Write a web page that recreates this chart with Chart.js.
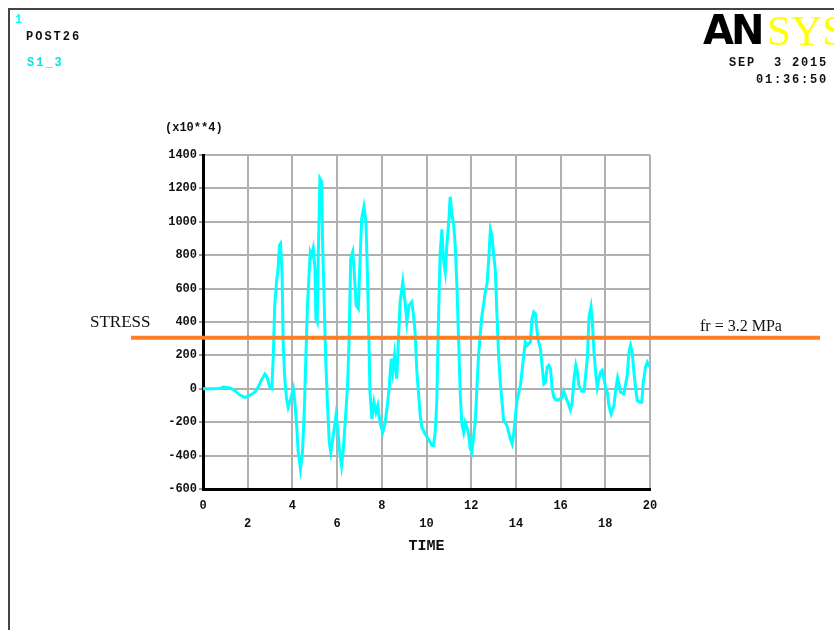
<!DOCTYPE html>
<html>

<head>
  <title>POST26 S1_3</title>
  <script src="https://cdn.jsdelivr.net/npm/chart.js"></script>
  <style>
    body { margin: 0; background: #fff; }
    #page { position: relative; width: 834px; height: 630px; overflow: hidden; }
    #page canvas { position: absolute; left: 0; top: 0; }
    .t { position: absolute; white-space: pre; line-height: 1; font-family: "Liberation Mono", monospace; font-weight: bold; }
    .frame { position: absolute; left: 8px; top: 8px; width: 900px; height: 700px;
             border-left: 2px solid #444; border-top: 2px solid #444; }
  </style>
</head>

<body>
  <div id="page">
    <div class="frame"></div>
    <canvas id="myChart" width="834" height="630"></canvas>
    <div class="t" style="left:15px;top:14px;font-size:12px;color:#00ffff;">1</div>
    <div class="t" style="left:26px;top:31px;font-size:12px;letter-spacing:2px;color:#111;">POST26</div>
    <div class="t" style="left:27px;top:57px;font-size:12px;letter-spacing:2px;color:#00e5e5;">S1_3</div>
    <div class="t" style="left:703px;top:10px;font-family:'DejaVu Sans',sans-serif;font-size:40px;font-weight:900;letter-spacing:-3px;color:#000;">AN</div>
    <div class="t" style="left:767px;top:9px;font-family:'Liberation Serif',serif;font-size:43px;font-weight:normal;color:#ffff00;">SYS</div>
    <div class="t" style="right:6px;top:57px;font-size:12px;letter-spacing:1.8px;color:#111;">SEP  3 2015</div>
    <div class="t" style="right:6px;top:74px;font-size:12px;letter-spacing:1.8px;color:#111;">01:36:50</div>
    <div class="t" style="left:165px;top:122px;font-size:12px;letter-spacing:0px;color:#111;">(x10**4)</div>
    <div class="t" style="left:90px;top:313px;font-family:'Liberation Serif',serif;font-size:17px;font-weight:normal;color:#111;">STRESS</div>
    <div class="t" style="left:700px;top:318px;font-family:'Liberation Serif',serif;font-size:16px;font-weight:normal;color:#111;">fr = 3.2 MPa</div>
  </div>
  <script>
    // time history (stress in x10**4)
    var time = [
      0.00, 0.40, 0.75, 0.93, 1.20, 1.35, 1.50, 1.64, 1.87, 2.09,
      2.32, 2.47, 2.62, 2.77, 2.88, 2.97, 3.08, 3.14, 3.21, 3.29,
      3.36, 3.42, 3.47, 3.54, 3.59, 3.66, 3.74, 3.81, 3.92, 4.04,
      4.11, 4.19, 4.26, 4.36, 4.45, 4.53, 4.60, 4.68, 4.75, 4.80,
      4.86, 4.93, 5.01, 5.05, 5.11, 5.16, 5.23, 5.31, 5.35, 5.41,
      5.49, 5.56, 5.65, 5.72, 5.83, 5.95, 6.02, 6.10, 6.20, 6.28,
      6.35, 6.46, 6.53, 6.61, 6.70, 6.77, 6.85, 6.95, 7.03, 7.10,
      7.20, 7.29, 7.35, 7.41, 7.47, 7.56, 7.65, 7.74, 7.82, 7.92,
      8.04, 8.15, 8.25, 8.34, 8.42, 8.49, 8.57, 8.67, 8.74, 8.82,
      8.94, 9.04, 9.12, 9.22, 9.34, 9.42, 9.49, 9.57, 9.64, 9.72,
      9.79, 9.94, 10.08, 10.24, 10.31, 10.39, 10.46, 10.54, 10.61, 10.69,
      10.76, 10.84, 10.91, 10.99, 11.06, 11.14, 11.21, 11.29, 11.36, 11.44,
      11.51, 11.58, 11.66, 11.73, 11.81, 11.88, 11.96, 12.03, 12.11, 12.18,
      12.26, 12.33, 12.41, 12.48, 12.56, 12.63, 12.71, 12.78, 12.86, 12.93,
      13.00, 13.08, 13.15, 13.23, 13.30, 13.38, 13.45, 13.60, 13.75, 13.83,
      13.90, 13.98, 14.05, 14.20, 14.27, 14.35, 14.42, 14.50, 14.57, 14.65,
      14.72, 14.80, 14.87, 14.95, 15.02, 15.10, 15.17, 15.25, 15.32, 15.40,
      15.47, 15.55, 15.62, 15.70, 15.77, 15.92, 16.07, 16.14, 16.29, 16.44,
      16.52, 16.60, 16.68, 16.75, 16.82, 16.94, 17.05, 17.20, 17.27, 17.36,
      17.42, 17.50, 17.58, 17.64, 17.71, 17.79, 17.86, 17.94, 18.01, 18.09,
      18.16, 18.26, 18.39, 18.46, 18.55, 18.63, 18.68, 18.83, 18.98, 19.06,
      19.13, 19.21, 19.28, 19.36, 19.43, 19.55, 19.63, 19.70, 19.80, 19.88,
      20.00
    ];
    var s1 = [
      0, 0, 2, 10, 5, -4, -20, -36, -52, -40,
      -20, 10, 55, 88, 65, 15, 2, 180, 500, 640,
      720, 860, 870, 680, 260, 60, -60, -110, -60, 0,
      -80, -220, -380, -480, -380, -140, 180, 520, 700, 820,
      800, 840, 720, 420, 400, 820, 1260, 1240, 880, 580,
      180, -60, -320, -380, -280, -160, -220, -360, -460, -360,
      -220, 0, 260, 780, 820, 700, 500, 480, 780, 1020,
      1090, 1000, 720, 380, -20, -180, -80, -140, -100, -200,
      -260, -200, -100, 20, 180, 100, 200, 60, 280, 520,
      640, 520, 400, 500, 520, 440, 340, 100, -20, -160,
      -230, -270, -300, -340, -340, -260, -80, 440, 810, 955,
      770, 700, 860, 990, 1150, 1040, 990, 850, 620, 280,
      -30, -210, -260, -200, -230, -270, -360, -380, -280, -200,
      20, 200, 340, 440, 510, 580, 630, 770, 955, 920,
      810, 710, 450, 190, 40, -80, -190, -220, -300, -330,
      -270, -160, -70, 20, 100, 200, 280, 260, 270, 280,
      420, 460, 450, 340, 280, 240, 140, 30, 40, 130,
      140, 120, 0, -50, -65, -65, -50, -15, -70, -125,
      -80, 60, 140, 100, 20, -15, -15, 190, 430, 490,
      400, 210, 80, 10, 60, 100, 110, 60, 10, -20,
      -100, -150, -100, -10, 65, 20, -20, -30, 80, 220,
      260, 210, 100, 0, -70, -80, -80, 40, 130, 160,
      130
    ];
    var xTicks = [0, 2, 4, 6, 8, 10, 12, 14, 16, 18, 20];
    var yTicks = [-600, -400, -200, 0, 200, 400, 600, 800, 1000, 1200, 1400];
    var frLevel = 306; // fr = 3.2 MPa marker, as drawn

    var tickFont = { family: 'Liberation Mono', size: 12, weight: 'bold', lineHeight: 1.5 };

    // orange fr line, drawn past both ends of the plot
    var frLine = {
      id: 'frLine',
      afterDatasetsDraw: function (chart) {
        var ctx = chart.ctx;
        var y = chart.scales.y.getPixelForValue(frLevel);
        ctx.save();
        ctx.strokeStyle = '#ff7f27';
        ctx.lineWidth = 4;
        ctx.beginPath();
        ctx.moveTo(131, y);
        ctx.lineTo(820, y);
        ctx.stroke();
        ctx.restore();
      }
    };

    var ctx = document.getElementById('myChart').getContext('2d');
    var chart = new Chart(ctx, {
      type: 'line',
      data: {
        datasets: [{
          label: 'S1_3',
          data: time.map(function (t, i) { return { x: t, y: s1[i] }; }),
          borderColor: '#00ffff',
          borderWidth: 3,
          pointRadius: 0,
          tension: 0,
          fill: false
        }]
      },
      plugins: [frLine],
      options: {
        responsive: false,
        animation: false,
        layout: { padding: { left: 143, right: 184, top: 155, bottom: 71 } },
        plugins: { legend: { display: false }, tooltip: { enabled: false } },
        scales: {
          x: {
            type: 'linear',
            min: 0,
            max: 20,
            afterFit: function (scale) { scale.height = 70; },
            afterBuildTicks: function (scale) {
              scale.ticks = xTicks.map(function (v) { return { value: v }; });
            },
            ticks: {
              autoSkip: false,
              maxRotation: 0,
              padding: 8,
              color: '#111',
              font: tickFont,
              // staggered labels like the ANSYS plot
              callback: function (v) { return (v / 2) % 2 === 1 ? ['', String(v)] : String(v); }
            },
            grid: { color: '#b0b0b0', lineWidth: 2, drawTicks: false },
            border: { color: '#000', width: 3 },
            title: {
              display: true,
              text: 'TIME',
              color: '#111',
              font: { family: 'Liberation Mono', size: 15, weight: 'bold' },
              padding: { top: 4, bottom: 4 }
            }
          },
          y: {
            type: 'linear',
            min: -600,
            max: 1400,
            afterFit: function (scale) { scale.width = 60; },
            afterBuildTicks: function (scale) {
              scale.ticks = yTicks.map(function (v) { return { value: v }; });
            },
            ticks: {
              padding: 2,
              color: '#111',
              font: { family: 'Liberation Mono', size: 12, weight: 'bold' },
              callback: function (v) { return String(v); }
            },
            grid: { color: '#b0b0b0', lineWidth: 2, tickLength: 4, tickColor: '#333', tickWidth: 1 },
            border: { color: '#000', width: 3 }
          }
        }
      }
    });
  </script>
</body>

</html>
